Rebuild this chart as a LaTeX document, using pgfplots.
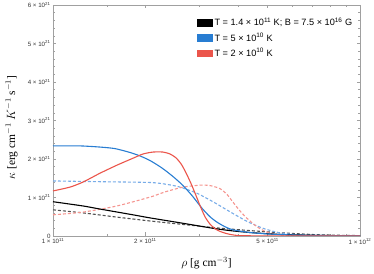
\documentclass[border=0pt]{standalone}
\usepackage{pgfplots}
\pgfplotsset{compat=1.18}
\usepackage{fontspec}
\setmainfont{Liberation Sans}
\newfontfamily\seriffont{Liberation Serif}
\usetikzlibrary{calc}
\definecolor{cblue}{RGB}{40,125,210}
\definecolor{cred}{RGB}{235,85,75}
\definecolor{cbluel}{RGB}{120,172,232}
\definecolor{credl}{RGB}{245,150,145}
\definecolor{cgray}{RGB}{80,80,80}
\definecolor{frame}{RGB}{160,160,160}
\newcommand{\tl}[2]{#1 × 10\textsuperscript{#2}}
\begin{document}
\begin{tikzpicture}
\begin{axis}[
  scale only axis, width=307bp, height=231bp,
  xmode=log, xmin=1, xmax=10, ymin=0, ymax=6,
  xtick={1,2,5,10},
  xticklabels={\tl{1}{11},\tl{2}{11},\tl{5}{11},\tl{1}{12}},
  minor xtick={1.5,3,4,6,7,8,9},
  ytick={0,1,2,3,4,5,6},
  yticklabels={0,\tl{1}{21},\tl{2}{21},\tl{3}{21},\tl{4}{21},\tl{5}{21},\tl{6}{21}},
  minor y tick num=4,
  axis line style={frame},
  every tick/.style={frame},
  major tick length=3.5bp, minor tick length=2bp,
  tick label style={font=\fontsize{6.2}{7}\selectfont, text=black!80},
  xticklabel style={yshift=1bp},
  yticklabel style={xshift=1bp},
  xlabel={\seriffont\fontsize{11.5}{12}\selectfont $\rho$ [g cm$^{-3}$]},
  xlabel style={at={(axis description cs:0.5,-0.134)}, anchor=base},
  ylabel={\seriffont\fontsize{11.5}{12}\selectfont $\kappa$ [erg cm$^{-1}$ $K^{-1}$ s$^{-1}$]},
  ylabel style={at={(axis description cs:-0.135,0.47)}, anchor=center, rotate=0},
  legend style={draw=none, fill=none, at={(rel axis cs:0.469,0.955)}, anchor=north west,
    font=\fontsize{9.2}{10}\selectfont, row sep=1.5bp, inner sep=0pt,
    /tikz/every even column/.append style={column sep=2bp}},
  legend cell align=left,
  legend image code/.code={\fill[#1] (0bp,-3.3bp) rectangle (15bp,3.3bp);},
  every axis plot/.append style={smooth, tension=0.4},
]
\addlegendimage{black, fill=black}
\addlegendentry{T = 1.4 × 10\textsuperscript{11} K; B = 7.5 × 10\textsuperscript{16} G}
\addlegendimage{cblue, fill=cblue}
\addlegendentry{T = 5 × 10\textsuperscript{10} K}
\addlegendimage{cred, fill=cred}
\addlegendentry{T = 2 × 10\textsuperscript{10} K}

% dashed curves
\addplot[forget plot, cgray, line width=1.1bp, dash pattern=on 3bp off 2bp] coordinates {
(1.0,0.68) (1.252,0.60) (1.616,0.49) (2.070,0.39) (2.652,0.30) (3.421,0.21) (4.382,0.14) (5.614,0.08) (7.408,0.03) (10,0.01)};
\addplot[forget plot, cbluel, line width=1.1bp, dash pattern=on 3bp off 2bp] coordinates {
(1.0,1.43) (1.422,1.41) (2.070,1.39) (2.351,1.34) (2.593,1.27) (2.945,1.11) (3.320,0.89) (3.771,0.63) (4.284,0.38) (4.831,0.20) (5.489,0.08) (6.376,0.03) (7.987,0.01) (10,0.005)};
\addplot[forget plot, credl, line width=1.1bp, dash pattern=on 3bp off 2bp] coordinates {
(1.0,0.55) (1.252,0.62) (1.616,0.78) (2.070,1.01) (2.232,1.10) (2.351,1.16) (2.652,1.27) (3.012,1.32) (3.246,1.31) (3.499,1.23) (3.688,1.08) (3.857,0.88) (4.066,0.65) (4.284,0.46) (4.618,0.24) (4.98,0.10) (5.489,0.03) (6.376,0.01) (10,0.0)};
% solid curves
\addplot[forget plot, black, line width=1.1bp] coordinates {
(1.0,0.89) (1.252,0.78) (1.422,0.70) (1.822,0.55) (2.070,0.47) (2.652,0.33) (3.320,0.20) (3.771,0.14) (4.382,0.09) (5.489,0.04) (7.408,0.015) (10,0.005)};
\addplot[forget plot, cblue, line width=1.1bp] coordinates {
(1.0,2.34) (1.224,2.34) (1.422,2.31) (1.592,2.27) (1.781,2.17) (1.920,2.08) (2.070,1.96) (2.232,1.80) (2.351,1.67) (2.497,1.50) (2.652,1.31) (2.837,1.05) (3.058,0.72) (3.246,0.50) (3.421,0.36) (3.633,0.24) (3.857,0.16) (4.382,0.09) (5.09,0.05) (6.376,0.02) (7.987,0.01) (10,0.005)};
\addplot[forget plot, cred, line width=1.1bp] coordinates {
(1.0,1.17) (1.136,1.27) (1.252,1.40) (1.422,1.63) (1.616,1.84) (1.822,2.02) (1.965,2.13) (2.117,2.18) (2.282,2.18) (2.405,2.13) (2.516,2.03) (2.62,1.86) (2.72,1.62) (2.82,1.35) (2.92,1.06) (3.012,0.79) (3.127,0.50) (3.246,0.31) (3.371,0.19) (3.499,0.12) (3.688,0.06) (3.916,0.02) (4.382,0.005) (10,0.0)};
\coordinate (sw) at (rel axis cs:0,0);
\coordinate (ne) at (rel axis cs:1,1);
\end{axis}
\pgfresetboundingbox
\path ($(sw)+(-53bp,-38bp)$) rectangle ($(ne)+(14bp,5bp)$);
\end{tikzpicture}
\end{document}
